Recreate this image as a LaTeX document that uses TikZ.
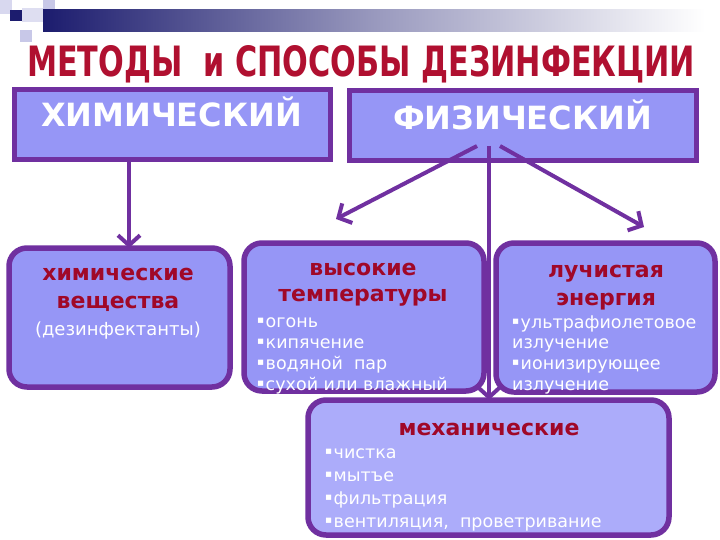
\documentclass[tikz,border=0pt]{standalone}
\usepackage{graphicx}
\usepackage{fontspec}
\setmainfont{DejaVu Sans}
\usetikzlibrary{arrows.meta}
\definecolor{pborder}{RGB}{112,48,160}
\definecolor{pfill}{RGB}{150,150,246}
\definecolor{mfill}{RGB}{172,172,250}
\definecolor{tred}{RGB}{160,8,40}
\definecolor{titred}{RGB}{176,16,48}
\definecolor{navy}{RGB}{28,28,110}
\definecolor{lav}{RGB}{200,200,232}
\newcommand{\bul}{\raisebox{0.18em}{\scalebox{0.6}{▪}}\kern0.08em}
\begin{document}
\begin{tikzpicture}[x=1pt,y=-1pt,
  topbox/.style={draw=pborder,fill=pfill,line width=4.5pt,inner sep=0pt,outer sep=0pt},
  rbox/.style={draw=pborder,fill=pfill,line width=5.5pt,rounded corners=18pt,inner sep=0pt,outer sep=0pt},
  big/.style={text=white,font=\fontsize{32}{32}\selectfont\bfseries,inner sep=0pt,anchor=base},
  head/.style={text=tred,font=\fontsize{22}{22}\selectfont\bfseries,inner sep=0pt,anchor=base},
  note/.style={text=white,font=\fontsize{18}{18}\selectfont,inner sep=0pt,anchor=base},
  item/.style={text=white,font=\fontsize{17.5}{17.5}\selectfont,inner sep=0pt,anchor=base west},
  conn/.style={draw=pborder,line width=4pt,-{Straight Barb[length=10pt,width=22pt]}}]
\useasboundingbox (0,0) rectangle (720,540);
\fill[white] (0,0) rectangle (720,540);
% decoration
\fill[lav!70] (0,0) rectangle (12,14);
\fill[lav] (20,30) rectangle (32,42);
\fill[lav!60] (22,8) rectangle (43,22);
\fill[lav] (43,0) rectangle (55,10);
\shade[left color=navy, right color=white, middle color=navy!45] (43,10) rectangle (705,32);
\fill[navy] (10,10) rectangle (22,21);
% title
\node[anchor=base west,inner sep=0pt,text=titred] (title) at (27,77)
  {\resizebox{668pt}{31pt}{\bfseries МЕТОДЫ\ \ и СПОСОБЫ ДЕЗИНФЕКЦИИ}};
% boxes
\node[topbox,minimum width=316pt,minimum height=70pt] (him) at (172.5,124.5) {};
\node[topbox,minimum width=347pt,minimum height=70pt] (fiz) at (523,125.5) {};
\node[rbox,minimum width=221pt,minimum height=139pt] (b1) at (119.5,317.5) {};
\node[rbox,minimum width=240pt,minimum height=148pt] (b2) at (364,317) {};
\node[rbox,minimum width=219pt,minimum height=149pt] (b3) at (605.5,317.5) {};
\node[rbox,fill=mfill,minimum width=361pt,minimum height=135pt] (b4) at (488.5,467.5) {};
% connectors
\coordinate (a1) at (129,160);
\coordinate (f1) at (477,146);
\coordinate (t1) at (336,219);
\coordinate (f2) at (500,146);
\coordinate (t2) at (644,227);
\coordinate (f3) at (489,146);
\draw[conn] (a1) -- (a1 |- b1.north);
\draw[conn] (f1) -- (t1);
\draw[conn] (f2) -- (t2);
\draw[conn] (f3) -- (f3 |- b4.north);
% texts
\node[big] (himt) at (171.5,127) {ХИМИЧЕСКИЙ};
\node[big] (fizt) at (522.5,130) {ФИЗИЧЕСКИЙ};
\node[head] (h1a) at (118,280) {химические};
\node[head] (h1b) at (118,308) {вещества};
\node[note] (h1c) at (118,335) {(дезинфектанты)};
\node[head] (h2a) at (363,275) {высокие};
\node[head] (h2b) at (363,301) {температуры};
\node[item] (i2a) at (257,327) {\bul огонь};
\node[item] (i2b) at (257,348) {\bul кипячение};
\node[item] (i2c) at (257,369) {\bul водяной\ \ пар};
\node[item] (i2d) at (257,390) {\bul сухой или влажный};
\node[head] (h3a) at (606,277) {лучистая};
\node[head] (h3b) at (606,305) {энергия};
\node[item] (i3a) at (512,328) {\bul ультрафиолетовое};
\node[item] (i3b) at (512,348) {излучение};
\node[item] (i3c) at (512,369) {\bul ионизирующее};
\node[item] (i3d) at (512,390) {излучение};
\node[head] (h4a) at (489,435) {механические};
\node[item] (i4a) at (325,458) {\bul чистка};
\node[item] (i4b) at (325,481) {\bul мытъе};
\node[item] (i4c) at (325,504) {\bul фильтрация};
\node[item] (i4d) at (325,527) {\bul вентиляция,\ \ проветривание};
\end{tikzpicture}
\end{document}
